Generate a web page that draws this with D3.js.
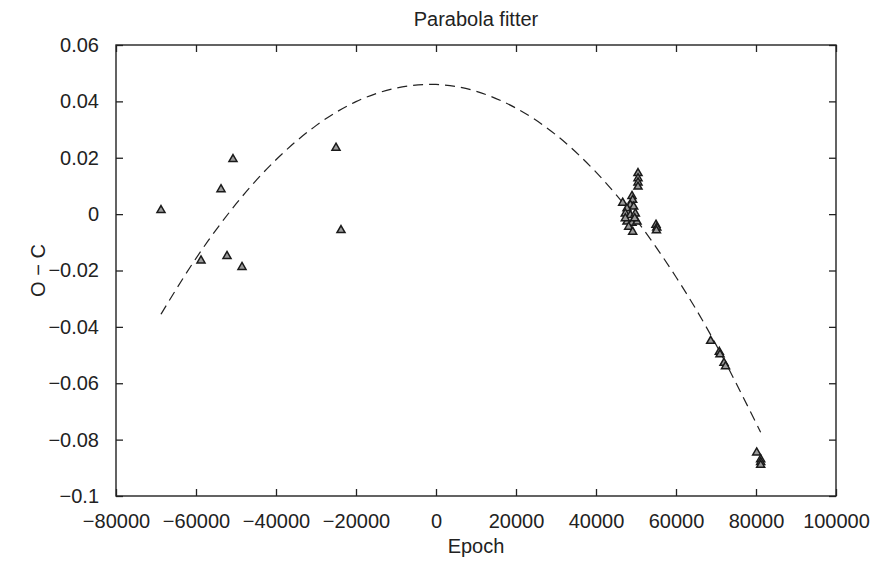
<!DOCTYPE html>
<html>
<head>
<meta charset="utf-8">
<script src="https://cdn.jsdelivr.net/npm/d3@7"></script>
<style>
  body { margin: 0; background: #fff; }
  svg { display: block; font-family: "Liberation Sans", Arial, sans-serif; }
</style>
</head>
<body>
<svg></svg>
<script>
// ===== données =====
// points observés (Epoch, O-C)
const epochs = [
  -68750, -58750, -53750, -52250, -50750, -48500, -25000, -23750,
  46670, 49000, 49170, 48580, 47750, 49420, 47330, 48580, 49830,
  47750, 49000, 50250, 48170, 49170, 47330, 49670,
  50500, 50500, 50500, 50500,
  55000, 55200, 55100,
  68670, 70830, 71000, 72000, 72380,
  80170, 81170, 81170, 81170
];
const oc = [
  0.0014, -0.0165, 0.0088, -0.0149, 0.0195, -0.0188, 0.0235, -0.0057,
  0.0040, 0.0064, 0.0050, 0.0032, 0.0020, 0.0026, 0.0002, -0.0004, 0.0002,
  -0.0027, -0.0031, -0.0027, -0.0045, -0.0063, -0.0015, -0.0015,
  0.0145, 0.0127, 0.0112, 0.0097,
  -0.0038, -0.0048, -0.0058,
  -0.0450, -0.0489, -0.0498, -0.0528, -0.0540,
  -0.0846, -0.0870, -0.0880, -0.0890
];

// courbe ajustée (pointillés), valeurs relevées
const fitEpoch = [-68750, -60000, -50000, -40000, -30000, -20000, -10000, 0,
                  10000, 20000, 30000, 40000, 50000, 60000, 70000, 81170];
const fitOC = [-0.0355, -0.0157, 0.0036, 0.0193, 0.0314, 0.0399, 0.0447, 0.0460,
               0.0436, 0.0376, 0.0281, 0.0149, -0.0019, -0.0223, -0.0463, -0.0774];

const xTicks = [-80000, -60000, -40000, -20000, 0, 20000, 40000, 60000, 80000, 100000];
const yTicks = [-0.1, -0.08, -0.06, -0.04, -0.02, 0, 0.02, 0.04, 0.06];

// ===== mise en page =====
const width = 874, height = 563;
const plotLeft = 116, plotRight = 836, plotTop = 45, plotBottom = 496;
const tickLen = 7;

const svg = d3.select('svg').attr('width', width).attr('height', height);

const x = d3.scaleLinear().domain([-80000, 100000]).range([plotLeft, plotRight]);
const y = d3.scaleLinear().domain([-0.1, 0.06]).range([plotBottom, plotTop]);

const fmtX = d3.format("d");
const fmtY = d3.format("~g");

// axes (ticks vers l'intérieur, style Matlab)
const styleAxis = g => {
  g.select(".domain").remove();
  g.selectAll(".tick line").attr("stroke", "#222").attr("stroke-width", 1.3);
  g.selectAll(".tick text").attr("fill", "#222").attr("font-size", 20)
    .attr("font-family", "Liberation Sans, Arial, sans-serif");
};

svg.append("g").attr("transform", `translate(0,${plotBottom})`)
  .call(d3.axisBottom(x).tickValues(xTicks).tickFormat(fmtX).tickSizeInner(-tickLen).tickSizeOuter(0).tickPadding(11 + tickLen))
  .call(styleAxis)
  .call(g => g.selectAll(".tick text").attr("dy", "0.71em"));

svg.append("g").attr("transform", `translate(0,${plotTop})`)
  .call(d3.axisTop(x).tickValues(xTicks).tickFormat("").tickSizeInner(-tickLen).tickSizeOuter(0))
  .call(styleAxis);

svg.append("g").attr("transform", `translate(${plotLeft},0)`)
  .call(d3.axisLeft(y).tickValues(yTicks).tickFormat(fmtY).tickSizeInner(-tickLen).tickSizeOuter(0).tickPadding(10 + tickLen))
  .call(styleAxis);

svg.append("g").attr("transform", `translate(${plotRight},0)`)
  .call(d3.axisRight(y).tickValues(yTicks).tickFormat("").tickSizeInner(-tickLen).tickSizeOuter(0))
  .call(styleAxis);

// cadre
svg.append("rect")
  .attr("x", plotLeft).attr("y", plotTop)
  .attr("width", plotRight - plotLeft).attr("height", plotBottom - plotTop)
  .attr("fill", "none").attr("stroke", "#222").attr("stroke-width", 1.4);

// courbe ajustée
const line = d3.line()
  .x((d, i) => x(fitEpoch[i]))
  .y(d => y(d))
  .curve(d3.curveNatural);

svg.append("path")
  .attr("d", line(fitOC))
  .attr("fill", "none")
  .attr("stroke", "#222")
  .attr("stroke-width", 1.2)
  .attr("stroke-dasharray", "10,6");

// points (triangles)
const tri = d3.symbol().type(d3.symbolTriangle).size(28);
svg.append("g").selectAll("path")
  .data(epochs)
  .join("path")
  .attr("d", tri)
  .attr("transform", (d, i) => `translate(${x(d)},${y(oc[i])})`)
  .attr("fill", "#9a9a9a")
  .attr("stroke", "#1a1a1a")
  .attr("stroke-width", 1.5);

// titres
svg.append("text")
  .attr("x", (plotLeft + plotRight) / 2).attr("y", 26)
  .attr("text-anchor", "middle").attr("font-size", 20).attr("fill", "#222")
  .text("Parabola fitter");

svg.append("text")
  .attr("x", (plotLeft + plotRight) / 2).attr("y", 553)
  .attr("text-anchor", "middle").attr("font-size", 20).attr("fill", "#222")
  .text("Epoch");

svg.append("text")
  .attr("transform", `translate(45,${(plotTop + plotBottom) / 2}) rotate(-90)`)
  .attr("text-anchor", "middle").attr("font-size", 20).attr("fill", "#222")
  .text("O − C");
</script>
</body>
</html>
